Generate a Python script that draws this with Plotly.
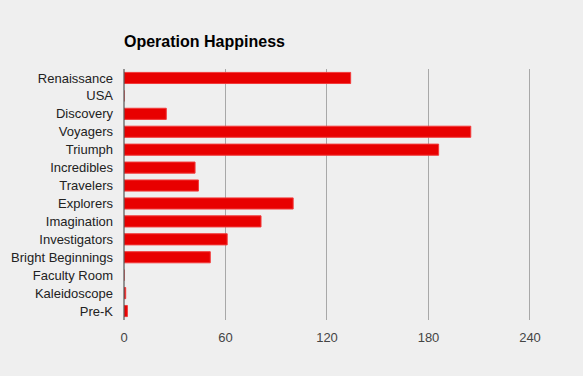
import plotly.graph_objects as go

categories = ["Renaissance", "USA", "Discovery", "Voyagers", "Triumph", "Incredibles",
              "Travelers", "Explorers", "Imagination", "Investigators",
              "Bright Beginnings", "Faculty Room", "Kaleidoscope", "Pre-K"]
values = [134, 0, 25, 205, 186, 42, 44, 100, 81, 61, 51, 0, 1, 2]
tick_values = [0, 60, 120, 180, 240]
tick_labels = ["0", "60", "120", "180", "240"]

fig = go.Figure(go.Bar(
    x=values, y=categories, orientation="h",
    marker=dict(color="#e80000", line=dict(color="#f23a3a", width=1)),
))

fig.update_layout(
    width=583, height=376,
    paper_bgcolor="#efefef", plot_bgcolor="#efefef",
    margin=dict(l=124, r=52, t=69, b=56),
    bargap=0.38,
    showlegend=False,
    font=dict(family="Liberation Sans, Arial", size=13, color="#222222"),
    title=dict(text="<b>Operation Happiness</b>", x=124/583, xanchor="left",
               y=1-41/376, yanchor="middle",
               font=dict(family="Liberation Sans, Arial", size=16, color="#000000")),
    xaxis=dict(range=[0, 240.6], tickvals=tick_values, ticktext=tick_labels,
               showgrid=True, gridcolor="#a8a8a8", gridwidth=1,
               zeroline=False, showline=False, ticks="",
               ticklabelstandoff=8,
               tickfont=dict(color="#444444", size=13)),
    yaxis=dict(autorange="reversed", showgrid=False, zeroline=False,
               showline=False, ticks="", ticklabelstandoff=10,
               tickfont=dict(color="#222222", size=13)),
    shapes=[dict(type="line", xref="paper", yref="paper", x0=0, x1=0, y0=0, y1=1,
                 layer="above", line=dict(color="#555555", width=1.2))],
)

fig.write_html("out.html", config={"displayModeBar": False},
               post_script="document.body.style.margin='0';document.body.style.overflow='hidden';")
